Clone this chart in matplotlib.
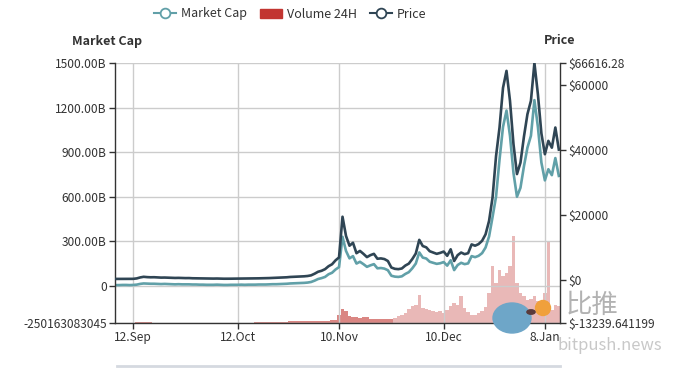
import matplotlib
matplotlib.use('Agg')
from matplotlib import pyplot as plt
from matplotlib.lines import Line2D
from matplotlib.patches import Patch, Ellipse, Circle
import pandas as pd

plt.rcParams['font.family'] = ['Noto Sans CJK SC', 'DejaVu Sans']

# daily values, 7 Sep 2020 .. 12 Jan 2021
start_date = '2020-09-07'

price = [300, 300, 320, 310, 300, 320, 450, 750, 950, 850,
         800, 820, 760, 700, 720, 680, 650, 600, 620, 580,
         550, 560, 500, 480, 450, 420, 400, 380, 400, 420,
         380, 360, 350, 370, 380, 400, 420, 400, 420, 450,
         460, 480, 500, 520, 560, 600, 620, 700, 750, 800,
         900, 950, 1000, 1050, 1100, 1200, 1400, 1900, 2500, 2800,
         3300, 4200, 4800, 6000, 6900, 19400, 13500, 10500, 11400, 8200,
         8900, 8000, 7000, 7600, 8000, 6500, 6600, 6400, 5800, 3800,
         3400, 3300, 3500, 4400, 5000, 6400, 8100, 12300, 10400, 10000,
         8800, 8400, 8000, 8300, 8700, 7400, 9400, 5800, 7600, 8400,
         7900, 8200, 10900, 10500, 11000, 12000, 14000, 18100, 25300, 38000,
         46800, 59000, 64200, 55000, 41700, 32500, 36000, 44000, 50900, 55000,
         66616.28, 57000, 45000, 38600, 42700, 40600, 46800, 40000]

market_cap = [5, 5, 6, 6, 5, 6, 8, 13, 16, 15,
              14, 14, 13, 12, 13, 12, 11, 10, 11, 10,
              10, 10, 9, 9, 8, 8, 7, 7, 7, 8,
              7, 6, 6, 7, 7, 7, 8, 7, 8, 8,
              8, 9, 9, 9, 10, 11, 11, 12, 13, 14,
              16, 17, 18, 19, 20, 22, 26, 35, 46, 52,
              60, 78, 88, 110, 126, 330, 235, 185, 200, 150,
              162, 146, 128, 138, 146, 118, 120, 116, 105, 68,
              62, 60, 64, 80, 92, 118, 150, 225, 190, 184,
              162, 155, 148, 152, 160, 136, 172, 106, 140, 155,
              146, 151, 200, 193, 202, 220, 258, 332, 463, 600,
              850, 1070, 1180, 1010, 760, 600, 660, 805, 930, 1010,
              1250, 1070, 830, 710, 785, 745, 860, 740]

volume = [0.2, 0.2, 0.2, 0.2, 0.2, 0.2, 0.3, 0.3, 0.3, 0.3,
          0.3, 0.2, 0.2, 0.2, 0.2, 0.2, 0.2, 0.2, 0.2, 0.2,
          0.2, 0.2, 0.2, 0.2, 0.2, 0.2, 0.2, 0.2, 0.2, 0.2,
          0.2, 0.2, 0.2, 0.2, 0.2, 0.2, 0.2, 0.2, 0.2, 0.2,
          0.3, 0.3, 0.3, 0.3, 0.3, 0.4, 0.4, 0.5, 0.5, 0.6,
          0.9, 0.9, 0.9, 0.9, 0.9, 1.0, 1.0, 1.1, 1.1, 1.2,
          1.2, 1.2, 1.6, 1.6, 4.8, 8.1, 6.7, 4.0, 3.5, 3.2,
          2.9, 3.5, 3.2, 2.3, 2.4, 2.3, 2.2, 2.4, 2.3, 2.4,
          2.9, 3.9, 4.6, 5.8, 8.1, 9.8, 10.4, 16.2, 8.7, 8.1,
          7.5, 6.9, 6.3, 6.9, 5.8, 7.5, 9.8, 11.5, 10.4, 15.6,
          8.7, 6.3, 4.6, 4.6, 5.8, 6.9, 9.2, 17.3, 32.9, 23.1,
          30.6, 27.1, 28.9, 32.9, 50.2, 23.1, 17.3, 15.6, 13.3, 13.8,
          15.6, 12.7, 11.5, 17.3, 47.3, 7.5, 10.4, 9.8]

x_ticks = ['2020-09-12', '2020-10-12', '2020-11-10', '2020-12-10', '2021-01-08']
x_tick_labels = ['12.Sep', '12.Oct', '10.Nov', '10.Dec', '8.Jan']

cap_ticks = [-250.163083045, 0, 300, 600, 900, 1200, 1500]
cap_tick_labels = ['-250163083045', '0', '300.00B', '600.00B', '900.00B',
                   '1200.00B', '1500.00B']
price_ticks = [-13239.641199, 0, 20000, 40000, 60000, 66616.28]
price_tick_labels = ['$-13239.641199', '$0', '$20000', '$40000', '$60000',
                     '$66616.28']

dates = pd.date_range(start_date, periods=len(price), freq='D')

c_cap = '#61a0a8'
c_vol = '#c23531'
c_price = '#2f4554'
txt = '#333333'

fig = plt.figure(figsize=(6.84, 3.68), dpi=100)
ax = fig.add_axes([115 / 684, 1 - 323 / 368, 445 / 684, 260 / 368])
ax_vol = ax.twinx()
ax_p = ax.twinx()
ax_vol.set_zorder(1)
ax.set_zorder(2)
ax_p.set_zorder(3)
for a in (ax, ax_vol, ax_p):
    a.patch.set_visible(False)
    for s in a.spines.values():
        s.set_visible(False)

# volume (hidden axis)
split = 80
ax_vol.bar(dates[:split], volume[:split], width=1.0, color=c_vol, alpha=0.6, linewidth=0)
ax_vol.bar(dates[split:], volume[split:], width=1.0, color=c_vol, alpha=0.35, linewidth=0)
ax_vol.set_ylim(0, 150)
ax_vol.set_yticks([])

ax.plot(dates, market_cap, color=c_cap, lw=1.9)
ax_p.plot(dates, price, color=c_price, lw=1.9)

xmin = pd.Timestamp('2020-09-06 19:00')
xmax = pd.Timestamp('2021-01-12 08:00')
for a in (ax, ax_vol, ax_p):
    a.set_xlim(xmin, xmax)

ax.set_ylim(cap_ticks[0], 1500)
ax.set_yticks(cap_ticks)
ax.set_yticklabels(cap_tick_labels)
ax_p.set_ylim(price_ticks[0], price_ticks[-1])
ax_p.set_yticks(price_ticks)
ax_p.set_yticklabels(price_tick_labels)

ax.set_xticks(pd.to_datetime(x_ticks))
ax.set_xticklabels(x_tick_labels)

ax.grid(True, color='#cccccc', lw=1)
ax.spines['left'].set_visible(True)
ax.spines['bottom'].set_visible(True)
ax_p.spines['right'].set_visible(True)
for s in (ax.spines['left'], ax.spines['bottom'], ax_p.spines['right']):
    s.set_color(txt)
    s.set_linewidth(1)

ax.tick_params(axis='both', colors=txt, labelsize=8.6, length=4, width=1, pad=2)
ax_p.tick_params(axis='y', colors=txt, labelsize=8.6, length=4, width=1, pad=2)
ax_p.tick_params(axis='x', bottom=False, labelbottom=False)
ax_vol.tick_params(axis='x', bottom=False, labelbottom=False)

fig.text(107 / 684, 1 - 41 / 368, 'Market Cap', ha='center', va='center',
         fontsize=9, fontweight='bold', color=txt)
fig.text(560 / 684, 1 - 41 / 368, 'Price', ha='center', va='center',
         fontsize=9, fontweight='bold', color=txt)

handles = [Line2D([], [], color=c_cap, lw=1.5, marker='o', markersize=7,
                  markerfacecolor='white', markeredgewidth=1.3),
           Patch(facecolor=c_vol, edgecolor=c_vol),
           Line2D([], [], color=c_price, lw=1.5, marker='o', markersize=7,
                  markerfacecolor='white', markeredgewidth=1.3)]
fig.legend(handles, ['Market Cap', 'Volume 24H', 'Price'], ncol=3,
           loc='center', bbox_to_anchor=(290 / 684, 1 - 14 / 368),
           frameon=False, fontsize=9, handlelength=1.8, handletextpad=0.4,
           columnspacing=1.0, labelcolor=txt)

# data zoom strip edge
fig.add_artist(Line2D([117 / 684, 560 / 684], [1 - 366 / 368] * 2,
                      color='#d5d9e0', lw=2, transform=fig.transFigure))

# watermark
fig.add_artist(Ellipse((512 / 684, 1 - 318 / 368), 38 / 684, 30 / 368,
                       color='#6ea6c8', transform=fig.transFigure, zorder=10))
fig.add_artist(Circle((531 / 684, 1 - 312 / 368), 0.006,
                      color='#5a3a3a', transform=fig.transFigure, zorder=11))
fig.add_artist(Ellipse((543 / 684, 1 - 308 / 368), 15 / 684, 15 / 368,
                       color='#f0a03c', transform=fig.transFigure, zorder=10))
fig.text(592 / 684, 1 - 305 / 368, '比推', fontsize=19, color='#999999',
         alpha=0.75, ha='center', va='center', style='italic', zorder=12)
fig.text(610 / 684, 1 - 345 / 368, 'bitpush.news', fontsize=12, color='#bbbbbb',
         alpha=0.8, ha='center', va='center', zorder=12)

fig.savefig('out.png', dpi=100)
